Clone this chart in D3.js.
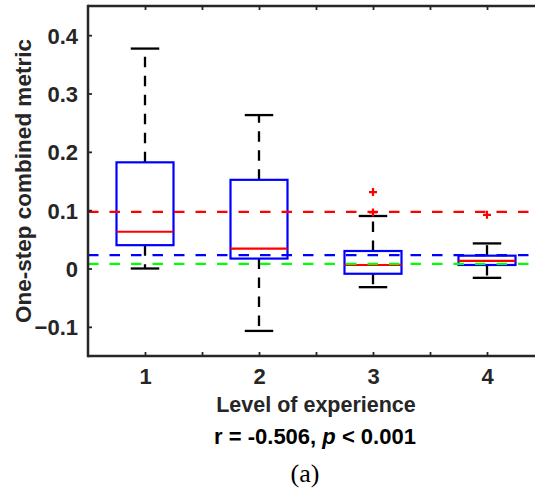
<!DOCTYPE html>
<html>
<head>
<meta charset="utf-8">
<script src="https://cdn.jsdelivr.net/npm/d3@7/dist/d3.min.js"></script>
<style>
  html, body { margin: 0; padding: 0; background: #fff; overflow: hidden; }
  svg { display: block; }
  text { font-family: "Liberation Sans", Arial, Helvetica, sans-serif; }
</style>
</head>
<body>
<svg id="chart" width="535" height="490"></svg>
<script>
// ---- data ----
const categories = [1, 2, 3, 4];
const q1 = [0.040, 0.017, -0.009, 0.006];
const medians = [0.063, 0.034, 0.006, 0.013];
const q3 = [0.182, 0.152, 0.030, 0.022];
const whiskerLow = [0.000, -0.107, -0.032, -0.016];
const whiskerHigh = [0.377, 0.263, 0.090, 0.043];
const outliers = [[], [], [0.131, 0.096], [0.092]];
const refValues = [0.097, 0.023, 0.008];
const refColors = ["#ff0000", "#0000ff", "#00ff00"];
const yTicks = [-0.1, 0, 0.1, 0.2, 0.3, 0.4];
const xTicks = [1, 1.5, 2, 2.5, 3, 3.5, 4];
const xDomain = [0.5, 4.5];
const yDomain = [-0.15, 0.45];

// ---- layout ----
const W = 535;
const svg = d3.select("#chart");
const mLeft = 88, mTop = 6, mBottom = 356;
const x = d3.scaleLinear().domain(xDomain).range([mLeft, mLeft + 456]);
const y = d3.scaleLinear().domain(yDomain).range([mBottom, mTop]);
const axisColor = "#262626";
const boxHalf = 0.25, capHalf = 0.125;

svg.append("defs").append("clipPath").attr("id", "clip")
  .append("rect").attr("x", 0).attr("y", 0).attr("width", W).attr("height", 490);

const root = svg.append("g").attr("clip-path", "url(#clip)");
const g = root.append("g");

// boxes
categories.forEach((c, i) => {
  g.append("line").attr("x1", x(c)).attr("x2", x(c))
    .attr("y1", y(q3[i])).attr("y2", y(whiskerHigh[i]))
    .attr("stroke", "#000").attr("stroke-width", 2.3).attr("stroke-dasharray", "10.5,8.5");
  g.append("line").attr("x1", x(c)).attr("x2", x(c))
    .attr("y1", y(q1[i])).attr("y2", y(whiskerLow[i]))
    .attr("stroke", "#000").attr("stroke-width", 2.3).attr("stroke-dasharray", "10.5,8.5");
  [whiskerHigh[i], whiskerLow[i]].forEach(v => {
    g.append("line").attr("x1", x(c - capHalf)).attr("x2", x(c + capHalf))
      .attr("y1", y(v)).attr("y2", y(v))
      .attr("stroke", "#000").attr("stroke-width", 2.3);
  });
  g.append("rect").attr("x", x(c - boxHalf)).attr("y", y(q3[i]))
    .attr("width", x(c + boxHalf) - x(c - boxHalf))
    .attr("height", y(q1[i]) - y(q3[i]))
    .attr("fill", "none").attr("stroke", "#0000ff").attr("stroke-width", 2.2);
  g.append("line").attr("x1", x(c - boxHalf)).attr("x2", x(c + boxHalf))
    .attr("y1", y(medians[i])).attr("y2", y(medians[i]))
    .attr("stroke", "#ff0000").attr("stroke-width", 2.2);
  outliers[i].forEach(v => {
    const px = x(c), py = y(v);
    g.append("path").attr("d", `M${px-4},${py}H${px+4}M${px},${py-4}V${py+4}`)
      .attr("stroke", "#ff0000").attr("stroke-width", 2.2).attr("fill", "none");
  });
});

// reference lines
refValues.forEach((v, i) => {
  g.append("line").attr("x1", x(xDomain[0])).attr("x2", W)
    .attr("y1", y(v)).attr("y2", y(v))
    .attr("stroke", refColors[i]).attr("stroke-width", 2.3).attr("stroke-dasharray", "10.5,11");
});

// axes (ticks via d3-axis; spines drawn as plain lines to the right edge)
const yAxis = d3.axisLeft(y).tickValues(yTicks).tickSizeInner(-4).tickSizeOuter(0)
  .tickPadding(10).tickFormat(d => d3.format("")(+d.toFixed(2)));
const ya = root.append("g").attr("transform", `translate(${mLeft},0)`).call(yAxis);
const xAxis = d3.axisBottom(x).tickValues(xTicks).tickSizeInner(-4).tickSizeOuter(0)
  .tickPadding(12).tickFormat(d => Number.isInteger(d) ? d : "");
const xa = root.append("g").attr("transform", `translate(0,${mBottom})`).call(xAxis);
const xTop = d3.axisTop(x).tickValues(xTicks).tickSizeInner(-4).tickSizeOuter(0).tickFormat("");
const xt = root.append("g").attr("transform", `translate(0,${mTop})`).call(xTop);

[ya, xa, xt].forEach(a => {
  a.selectAll("path.domain").remove();
  a.selectAll(".tick line").attr("stroke", axisColor).attr("stroke-width", 1.8);
  a.selectAll(".tick text").attr("fill", axisColor)
    .style("font-size", "22px").style("font-weight", "bold")
    .style("font-family", '"Liberation Sans", Arial, sans-serif');
});
ya.selectAll(".tick text").attr("dy", "0.36em");
xa.selectAll(".tick text").attr("dy", "0.71em");

const spines = root.append("g").attr("stroke", axisColor).attr("stroke-width", 2.5);
spines.append("line").attr("x1", mLeft).attr("x2", mLeft).attr("y1", mTop - 1.25).attr("y2", mBottom + 1.25);
spines.append("line").attr("x1", mLeft).attr("x2", W).attr("y1", mTop).attr("y2", mTop);
spines.append("line").attr("x1", mLeft).attr("x2", W).attr("y1", mBottom).attr("y2", mBottom);

// labels
root.append("text").attr("transform", `translate(31,${(mTop + mBottom) / 2}) rotate(-90)`)
  .attr("text-anchor", "middle").attr("fill", axisColor)
  .style("font-size", "22.5px").style("font-weight", "bold")
  .text("One-step combined metric");

root.append("text").attr("x", (x(xDomain[0]) + x(xDomain[1])) / 2).attr("y", 412)
  .attr("text-anchor", "middle").attr("fill", axisColor)
  .style("font-size", "21.5px").style("font-weight", "bold")
  .text("Level of experience");

const st = root.append("text").attr("x", 315).attr("y", 444)
  .attr("text-anchor", "middle").attr("fill", "#000")
  .style("font-size", "22px").style("font-weight", "bold");
st.append("tspan").text("r = -0.506, ");
st.append("tspan").style("font-style", "italic").text("p");
st.append("tspan").text(" < 0.001");

root.append("text").attr("x", 305).attr("y", 482)
  .attr("text-anchor", "middle").attr("fill", "#000")
  .style("font-family", '"Liberation Serif", "Times New Roman", serif')
  .style("font-size", "26px")
  .text("(a)");
</script>
</body>
</html>
